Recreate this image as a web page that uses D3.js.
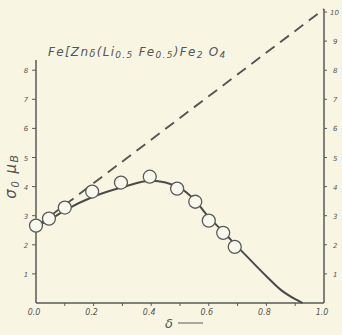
<!DOCTYPE html>
<html>
<head>
<meta charset="utf-8">
<script src="https://cdn.jsdelivr.net/npm/d3@7"></script>
<style>
  body { margin: 0; background: #f8f6e2; }
  svg { display: block; }
  text { font-family: "DejaVu Sans", sans-serif; font-style: italic; fill: #555; }
</style>
</head>
<body>
<script>
// measured points (delta, sigma0 in mu_B)
const delta = [0, 0.045, 0.1, 0.195, 0.295, 0.395, 0.49, 0.553, 0.6, 0.65, 0.69];
const sigma = [2.66, 2.9, 3.28, 3.83, 4.14, 4.34, 3.93, 3.48, 2.83, 2.41, 1.93];
// smooth curve through the data
const curveX = [0, 0.05, 0.1, 0.2, 0.3, 0.4, 0.5, 0.55, 0.6, 0.65, 0.7, 0.75, 0.8, 0.85, 0.9, 0.925];
const curveY = [2.62, 2.88, 3.18, 3.66, 3.98, 4.2, 3.95, 3.55, 2.95, 2.45, 1.93, 1.42, 0.92, 0.45, 0.13, 0];
// dashed theoretical line
const lineX = [0, 1];
const lineY = [2.62, 10.1];
const xTickLabels = ['0.0', '0.2', '0.4', '0.6', '0.8', '1.0'];
const leftTicks = [1, 2, 3, 4, 5, 6, 7, 8];
const rightTicks = [1, 2, 3, 4, 5, 6, 7, 8, 9, 10];

const width = 342, height = 335;
const svg = d3.select('body').append('svg')
  .attr('width', width)
  .attr('height', height);

const x = d3.scaleLinear().domain([0, 1]).range([36, 324]);
const y = d3.scaleLinear().domain([0, 10]).range([303, 12]);

const ink = '#5a5a5a';

// axes lines
svg.append('line').attr('x1', x(0)).attr('x2', x(1)).attr('y1', y(0)).attr('y2', y(0))
  .attr('stroke', ink).attr('stroke-width', 1.5);
svg.append('line').attr('x1', x(0)).attr('x2', x(0)).attr('y1', y(0)).attr('y2', y(8.35))
  .attr('stroke', ink).attr('stroke-width', 1.5);
svg.append('line').attr('x1', x(1)).attr('x2', x(1)).attr('y1', y(0)).attr('y2', y(10.1))
  .attr('stroke', ink).attr('stroke-width', 1.5);

// x ticks
svg.selectAll('.xt').data(d3.range(1, 10).map(d => d / 10)).enter().append('line')
  .attr('x1', d => x(d)).attr('x2', d => x(d))
  .attr('y1', y(0)).attr('y2', y(0) + 3)
  .attr('stroke', ink).attr('stroke-width', 1);
svg.selectAll('.xl').data(xTickLabels).enter().append('text')
  .attr('x', d => x(+d) - 2).attr('y', 315)
  .attr('text-anchor', 'middle')
  .attr('font-size', 8)
  .text(d => d);

// left ticks
svg.selectAll('.lt').data(leftTicks).enter().append('line')
  .attr('x1', x(0) - 4).attr('x2', x(0))
  .attr('y1', d => y(d)).attr('y2', d => y(d))
  .attr('stroke', ink).attr('stroke-width', 1);
svg.selectAll('.ll').data(leftTicks).enter().append('text')
  .attr('x', 26).attr('y', d => y(d) + 3)
  .attr('text-anchor', 'middle')
  .attr('font-size', 7)
  .text(d => d);

// right ticks
svg.selectAll('.rt').data(rightTicks).enter().append('line')
  .attr('x1', x(1)).attr('x2', x(1) + 3)
  .attr('y1', d => y(d)).attr('y2', d => y(d))
  .attr('stroke', ink).attr('stroke-width', 1);
svg.selectAll('.rl').data(rightTicks).enter().append('text')
  .attr('x', d => d === 10 ? 330 : 333).attr('y', d => y(d) + 3)
  .attr('font-size', 7)
  .text(d => d);

// dashed line
svg.append('path')
  .datum(lineX.map((d, i) => [d, lineY[i]]))
  .attr('d', d3.line().x(d => x(d[0])).y(d => y(d[1])))
  .attr('fill', 'none')
  .attr('stroke', '#555')
  .attr('stroke-width', 1.9)
  .attr('stroke-dasharray', '11,7');

// solid curve
svg.append('path')
  .datum(curveX.map((d, i) => [d, curveY[i]]))
  .attr('d', d3.line().curve(d3.curveMonotoneX).x(d => x(d[0])).y(d => y(d[1])))
  .attr('fill', 'none')
  .attr('stroke', '#4a4a4a')
  .attr('stroke-width', 2);

// circles
svg.selectAll('.pt').data(delta).enter().append('circle')
  .attr('cx', d => x(d))
  .attr('cy', (d, i) => y(sigma[i]))
  .attr('r', 6.5)
  .attr('fill', '#f9f8ec')
  .attr('stroke', '#5a5a5a')
  .attr('stroke-width', 1.3);

// title formula
const title = svg.append('text').attr('x', 48).attr('y', 56)
  .attr('font-size', 12).attr('letter-spacing', 1.3);
title.append('tspan').text('Fe[Zn');
title.append('tspan').attr('font-size', 10).attr('dy', 1).text('δ');
title.append('tspan').attr('dy', -1).text('(Li');
title.append('tspan').attr('font-size', 9).attr('dy', 2).text('0.5');
title.append('tspan').attr('dy', -2).text('  Fe');
title.append('tspan').attr('font-size', 9).attr('dy', 2).text('0.5');
title.append('tspan').attr('dy', -2).text(')Fe');
title.append('tspan').attr('font-size', 9).attr('dy', 2).text('2');
title.append('tspan').attr('dy', -2).text(' O');
title.append('tspan').attr('font-size', 9).attr('dy', 2).text('4');

// y axis label
const yl = svg.append('text')
  .attr('transform', 'translate(16,176) rotate(-90)')
  .attr('text-anchor', 'middle')
  .attr('font-size', 15)
  .attr('letter-spacing', 1.5);
yl.append('tspan').text('σ');
yl.append('tspan').attr('font-size', 10).attr('dy', 3).text('0');
yl.append('tspan').attr('dy', -3).text(' μ');
yl.append('tspan').attr('font-size', 11).attr('dy', 2).text('B');

// x axis label
svg.append('text').attr('x', 165).attr('y', 328).attr('font-size', 13).text('δ');
svg.append('line').attr('x1', 178).attr('x2', 203).attr('y1', 323).attr('y2', 323)
  .attr('stroke', ink).attr('stroke-width', 1);
</script>
</body>
</html>
